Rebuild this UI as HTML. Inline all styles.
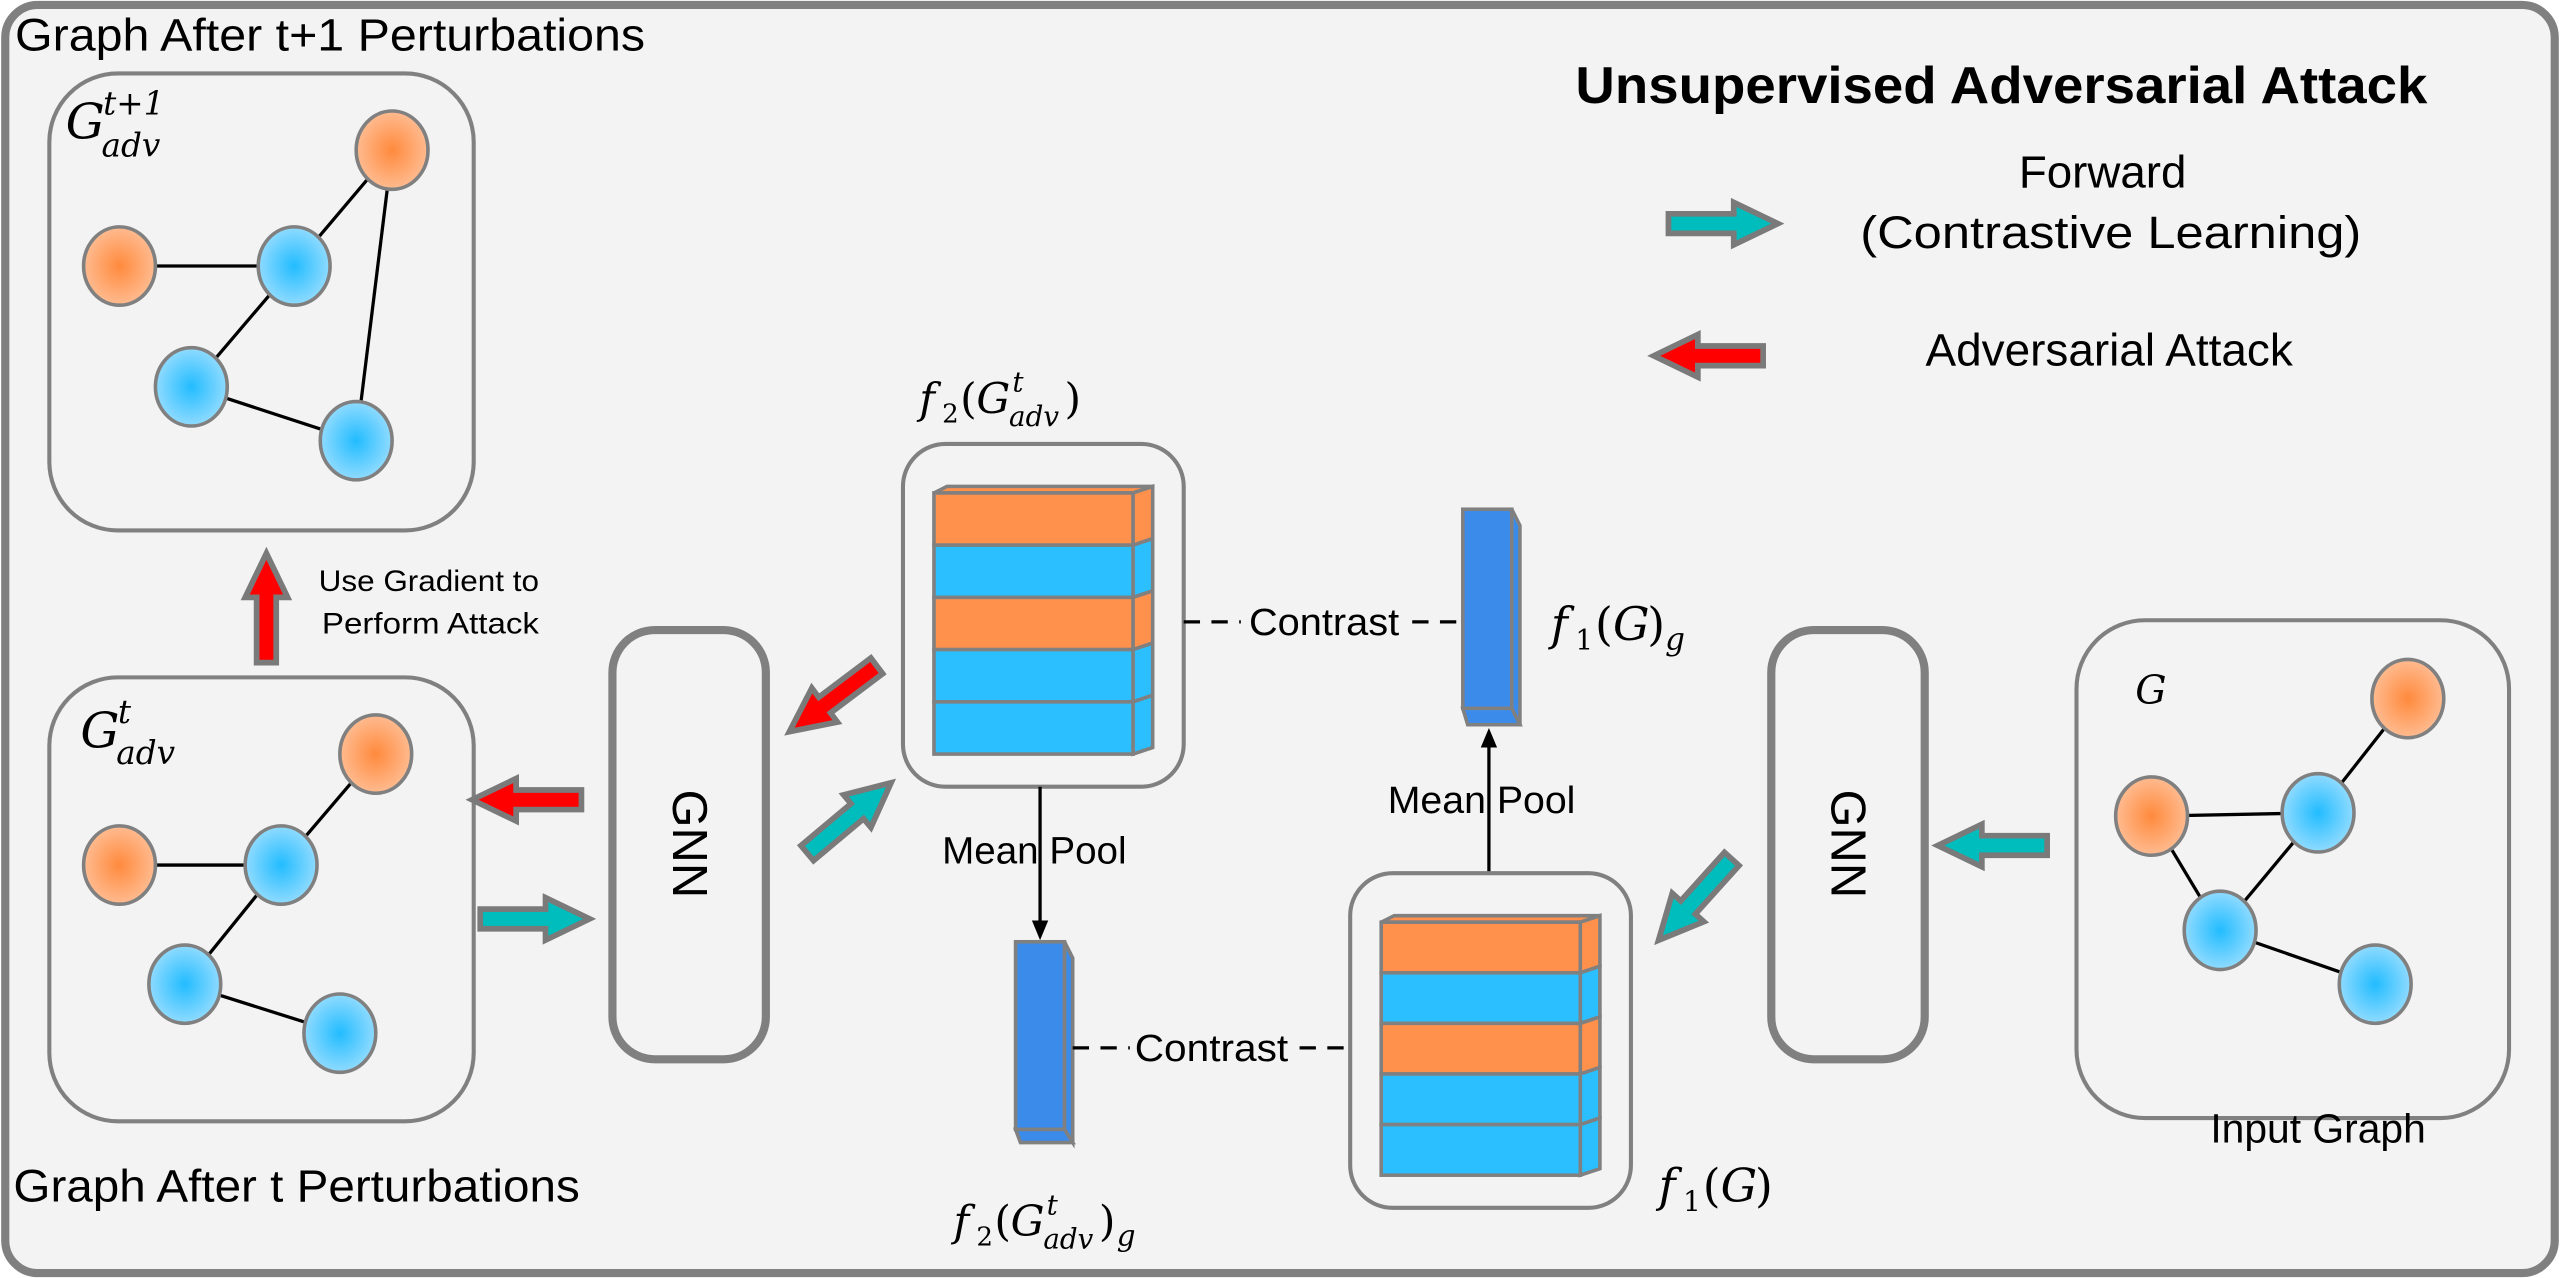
<!DOCTYPE html>
<html><head><meta charset="utf-8"><style>
html,body{margin:0;padding:0;background:#fff;}
svg{display:block;}
text{font-family:"Liberation Sans",sans-serif;fill:#000;}
.m{font-family:"DejaVu Serif","Liberation Serif",serif;font-style:italic;}
.r{font-family:"DejaVu Serif","Liberation Serif",serif;font-style:normal;}
</style></head><body>
<svg width="2560" height="1278" viewBox="0 0 1568 783" xmlns="http://www.w3.org/2000/svg">
<defs>
<radialGradient id="go"><stop offset="0" stop-color="#ff8a3d"/><stop offset="1" stop-color="#ffbb90"/></radialGradient>
<radialGradient id="gb"><stop offset="0" stop-color="#22bcff"/><stop offset="1" stop-color="#90dbff"/></radialGradient>
<g id="ar"><path d="M0,-6 L-40,-6 L-40,6 L0,6 L0,13 L27,0 L0,-13 Z" stroke="#7a7a7a" stroke-width="3.5" stroke-linejoin="miter"/></g>
</defs>
<rect x="3" y="3" width="1562" height="777" rx="20" fill="#f3f3f3" stroke="#808080" stroke-width="5"/>

<text x="9" y="31" font-size="28" textLength="386" lengthAdjust="spacingAndGlyphs">Graph After t+1 Perturbations</text>
<text x="8" y="736" font-size="28" textLength="347" lengthAdjust="spacingAndGlyphs">Graph After t Perturbations</text>
<text x="965" y="63" font-size="32" font-weight="bold" textLength="522" lengthAdjust="spacingAndGlyphs">Unsupervised Adversarial Attack</text>

<!-- legend -->
<use href="#ar" transform="translate(1062,137)" fill="#00bdbd"/>
<text x="1288" y="115" font-size="28" text-anchor="middle">Forward</text>
<text x="1293" y="152" font-size="28" text-anchor="middle" textLength="307" lengthAdjust="spacingAndGlyphs">(Contrastive Learning)</text>
<use href="#ar" transform="translate(1040,218) rotate(180)" fill="#ff0000"/>
<text x="1292" y="224" font-size="28" text-anchor="middle" textLength="225" lengthAdjust="spacingAndGlyphs">Adversarial Attack</text>

<!-- box 1 -->
<rect x="30" y="45" width="260" height="280" rx="42" fill="none" stroke="#808080" stroke-width="2.5"/>
<text class="m" x="40" y="85" font-size="30">G</text>
<text class="m" x="63" y="70" font-size="20">t+1</text>
<text class="m" x="62" y="96" font-size="20">adv</text>
<g stroke="#000" stroke-width="2">
<line x1="73" y1="163" x2="180" y2="163"/><line x1="180" y1="163" x2="240" y2="92"/>
<line x1="180" y1="163" x2="117" y2="237"/><line x1="117" y1="237" x2="218" y2="270"/>
<line x1="240" y1="92" x2="218" y2="270"/>
</g>
<g stroke="#808080" stroke-width="2.2">
<ellipse cx="240" cy="92" rx="22" ry="24" fill="url(#go)"/>
<ellipse cx="73" cy="163" rx="22" ry="24" fill="url(#go)"/>
<ellipse cx="180" cy="163" rx="22" ry="24" fill="url(#gb)"/>
<ellipse cx="117" cy="237" rx="22" ry="24" fill="url(#gb)"/>
<ellipse cx="218" cy="270" rx="22" ry="24" fill="url(#gb)"/>
</g>

<!-- up red arrow -->
<use href="#ar" transform="translate(163,366) rotate(-90)" fill="#ff0000"/>
<text x="195" y="362" font-size="18" textLength="135" lengthAdjust="spacingAndGlyphs">Use Gradient to</text>
<text x="197" y="388" font-size="18" textLength="133" lengthAdjust="spacingAndGlyphs">Perform Attack</text>

<!-- box 2 -->
<rect x="30" y="415" width="260" height="272" rx="42" fill="none" stroke="#808080" stroke-width="2.5"/>
<text class="m" x="49" y="458" font-size="30">G</text>
<text class="m" x="72" y="443" font-size="20">t</text>
<text class="m" x="71" y="468" font-size="20">adv</text>
<g stroke="#000" stroke-width="2">
<line x1="73" y1="530" x2="172" y2="530"/><line x1="172" y1="530" x2="230" y2="462"/>
<line x1="172" y1="530" x2="113" y2="603"/><line x1="113" y1="603" x2="208" y2="633"/>
</g>
<g stroke="#808080" stroke-width="2.2">
<ellipse cx="230" cy="462" rx="22" ry="24" fill="url(#go)"/>
<ellipse cx="73" cy="530" rx="22" ry="24" fill="url(#go)"/>
<ellipse cx="172" cy="530" rx="22" ry="24" fill="url(#gb)"/>
<ellipse cx="113" cy="603" rx="22" ry="24" fill="url(#gb)"/>
<ellipse cx="208" cy="633" rx="22" ry="24" fill="url(#gb)"/>
</g>

<!-- left GNN -->
<rect x="375" y="386" width="94" height="263" rx="26" fill="none" stroke="#808080" stroke-width="5"/>
<text x="0" y="0" font-size="30" text-anchor="middle" transform="translate(412,517) rotate(90)">GNN</text>
<use href="#ar" transform="translate(316,490) rotate(180)" fill="#ff0000"/>
<use href="#ar" transform="translate(334,563)" fill="#00bdbd"/>
<use href="#ar" transform="translate(505,432) rotate(143)" fill="#ff0000"/>
<use href="#ar" transform="translate(525,497) rotate(-40)" fill="#00bdbd"/>

<!-- f2 label top -->
<text class="m" x="563" y="253" font-size="26">f</text>
<text class="r" x="577" y="259" font-size="16">2</text>
<text class="r" x="588" y="253" font-size="26">(</text>
<text class="m" x="598" y="253" font-size="26">G</text>
<text class="m" x="620" y="240" font-size="17">t</text>
<text class="m" x="618" y="261" font-size="17">adv</text>
<text class="r" x="652" y="253" font-size="26">)</text>

<!-- mid top box -->
<rect x="553" y="272" width="172" height="210" rx="26" fill="none" stroke="#808080" stroke-width="2.5"/>
<g stroke="#808080" stroke-width="2.2">
<polygon points="572,302 580,298 706,298 694,302" fill="#ff914d"/>
<rect x="572" y="302" width="122" height="32" fill="#ff914d"/><polygon points="694,302 706,298 706,330 694,334" fill="#ff914d"/>
<rect x="572" y="334" width="122" height="32" fill="#2bbfff"/><polygon points="694,334 706,330 706,362 694,366" fill="#2bbfff"/>
<rect x="572" y="366" width="122" height="32" fill="#ff914d"/><polygon points="694,366 706,362 706,394 694,398" fill="#ff914d"/>
<rect x="572" y="398" width="122" height="32" fill="#2bbfff"/><polygon points="694,398 706,394 706,426 694,430" fill="#2bbfff"/>
<rect x="572" y="430" width="122" height="32" fill="#2bbfff"/><polygon points="694,430 706,426 706,458 694,462" fill="#2bbfff"/>
</g>
<line x1="725" y1="381" x2="760" y2="381" stroke="#000" stroke-width="2" stroke-dasharray="10,7"/>
<text x="765" y="389" font-size="23" textLength="92" lengthAdjust="spacingAndGlyphs">Contrast</text>
<line x1="865" y1="381" x2="897" y2="381" stroke="#000" stroke-width="2" stroke-dasharray="10,7"/>

<!-- f1 bar -->
<g stroke="#808080" stroke-width="2.2">
<rect x="896" y="312" width="30" height="122" fill="#3b8beb"/>
<polygon points="926,312 931,322 931,444 926,434" fill="#3b8beb"/>
<polygon points="896,434 926,434 931,444 899,444" fill="#3b8beb"/>
</g>
<text class="m" x="950" y="392" font-size="28">f</text>
<text class="r" x="965" y="398" font-size="17">1</text>
<text class="r" x="977" y="392" font-size="28">(</text>
<text class="m" x="988" y="392" font-size="28">G</text>
<text class="r" x="1009" y="392" font-size="28">)</text>
<text class="m" x="1020" y="398" font-size="19">g</text>

<!-- mean pool arrows -->
<line x1="912" y1="535" x2="912" y2="456" stroke="#000" stroke-width="2"/>
<polygon points="912,446 907,458 917,458" fill="#000"/>
<text x="850" y="498" font-size="23" textLength="115" lengthAdjust="spacingAndGlyphs">Mean Pool</text>
<line x1="637" y1="482" x2="637" y2="566" stroke="#000" stroke-width="2"/>
<polygon points="637,576 632,564 642,564" fill="#000"/>
<text x="577" y="529" font-size="23" textLength="113" lengthAdjust="spacingAndGlyphs">Mean Pool</text>

<!-- f2 bar -->
<g stroke="#808080" stroke-width="2.2">
<rect x="622" y="577" width="30" height="115" fill="#3b8beb"/>
<polygon points="652,577 657,587 657,700 652,692" fill="#3b8beb"/>
<polygon points="622,692 652,692 657,700 625,700" fill="#3b8beb"/>
</g>
<text class="m" x="584" y="757" font-size="26">f</text>
<text class="r" x="598" y="763" font-size="16">2</text>
<text class="r" x="609" y="757" font-size="26">(</text>
<text class="m" x="619" y="757" font-size="26">G</text>
<text class="m" x="641" y="744" font-size="17">t</text>
<text class="m" x="639" y="765" font-size="17">adv</text>
<text class="r" x="673" y="757" font-size="26">)</text>
<text class="m" x="684" y="763" font-size="18">g</text>

<line x1="657" y1="642" x2="692" y2="642" stroke="#000" stroke-width="2" stroke-dasharray="10,7"/>
<text x="695" y="650" font-size="23" textLength="94" lengthAdjust="spacingAndGlyphs">Contrast</text>
<line x1="796" y1="642" x2="828" y2="642" stroke="#000" stroke-width="2" stroke-dasharray="10,7"/>

<!-- mid bottom box -->
<rect x="827" y="535" width="172" height="205" rx="26" fill="none" stroke="#808080" stroke-width="2.5"/>
<g stroke="#808080" stroke-width="2.2">
<polygon points="846,565 854,561 980,561 968,565" fill="#ff914d"/>
<rect x="846" y="565" width="122" height="31" fill="#ff914d"/><polygon points="968,565 980,561 980,592 968,596" fill="#ff914d"/>
<rect x="846" y="596" width="122" height="31" fill="#2bbfff"/><polygon points="968,596 980,592 980,623 968,627" fill="#2bbfff"/>
<rect x="846" y="627" width="122" height="31" fill="#ff914d"/><polygon points="968,627 980,623 980,654 968,658" fill="#ff914d"/>
<rect x="846" y="658" width="122" height="31" fill="#2bbfff"/><polygon points="968,658 980,654 980,685 968,689" fill="#2bbfff"/>
<rect x="846" y="689" width="122" height="31" fill="#2bbfff"/><polygon points="968,689 980,685 980,716 968,720" fill="#2bbfff"/>
</g>
<text class="m" x="1016" y="736" font-size="28">f</text>
<text class="r" x="1031" y="742" font-size="17">1</text>
<text class="r" x="1043" y="736" font-size="28">(</text>
<text class="m" x="1054" y="736" font-size="28">G</text>
<text class="r" x="1075" y="736" font-size="28">)</text>

<use href="#ar" transform="translate(1034,556) rotate(132)" fill="#00bdbd"/>

<!-- right GNN -->
<rect x="1085" y="386" width="94" height="263" rx="26" fill="none" stroke="#808080" stroke-width="5"/>
<text x="0" y="0" font-size="30" text-anchor="middle" transform="translate(1122,517) rotate(90)">GNN</text>
<use href="#ar" transform="translate(1214,518) rotate(180)" fill="#00bdbd"/>

<!-- input graph -->
<rect x="1272" y="380" width="265" height="305" rx="42" fill="none" stroke="#808080" stroke-width="2.5"/>
<text class="m" x="1308" y="431" font-size="24">G</text>
<g stroke="#000" stroke-width="2">
<line x1="1318" y1="500" x2="1420" y2="498"/><line x1="1420" y1="498" x2="1475" y2="428"/>
<line x1="1318" y1="500" x2="1360" y2="570"/><line x1="1420" y1="498" x2="1360" y2="570"/>
<line x1="1360" y1="570" x2="1455" y2="603"/>
</g>
<g stroke="#808080" stroke-width="2.2">
<ellipse cx="1475" cy="428" rx="22" ry="24" fill="url(#go)"/>
<ellipse cx="1318" cy="500" rx="22" ry="24" fill="url(#go)"/>
<ellipse cx="1420" cy="498" rx="22" ry="24" fill="url(#gb)"/>
<ellipse cx="1360" cy="570" rx="22" ry="24" fill="url(#gb)"/>
<ellipse cx="1455" cy="603" rx="22" ry="24" fill="url(#gb)"/>
</g>
<text x="1420" y="700" font-size="25" text-anchor="middle">Input Graph</text>
</svg>
</body></html>
